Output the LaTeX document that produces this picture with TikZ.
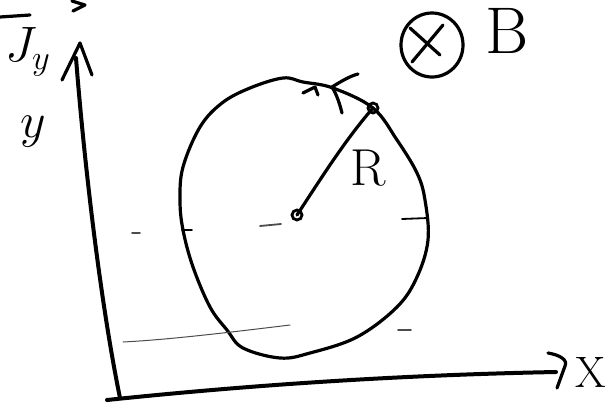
\documentclass[tikz,border=0pt]{standalone}
\begin{document}
\begin{tikzpicture}[x=0.5pt,y=-0.5pt,
  ink/.style={line width=1.6pt, line cap=round, line join=round},
  thick ink/.style={line width=2pt, line cap=round, line join=round},
  faint/.style={line width=0.5pt, black!70, line cap=round},
  lbl/.style={inner sep=0pt, anchor=center}]
\useasboundingbox (0,0) rectangle (605,402);
% coordinates
\coordinate (ytop) at (80,43);
\coordinate (o) at (120,398);
\coordinate (xend) at (556,372);
\coordinate (c) at (297,215);
\coordinate (p) at (373,108);
% y axis
\draw[thick ink] (o) .. controls (100,300) and (84,160) .. (76,58);
\draw[ink] (62,80) -- (ytop) -- (92,75);
% x axis
\draw[thick ink] (107,400) .. controls (250,385) and (400,375) .. (xend);
\draw[ink] (548,353) .. controls (560,355) and (568,360) .. (565,366) -- (557,388);
% circle
\draw[ink] plot[smooth cycle, tension=0.6] coordinates {
 (180,200) (183,167) (200,127) (222,103) (250,88) (283,78) (303,82)
 (333,88) (373,108) (397,140) (417,173) (425,200) (428,240) (417,277)
 (397,307) (357,337) (310,353) (280,358) (243,348) (227,330) (210,307)
 (193,267) (183,230)};
% radius
\draw[ink] (c) .. controls (320,180) and (345,140) .. (p);
\node[draw, circle, line width=1.4pt, minimum size=5pt, inner sep=0pt] (cdot) at (c) {};
\node[draw, circle, line width=1.4pt, minimum size=5pt, inner sep=0pt] (pdot) at (p) {};
\node[lbl, font=\fontsize{26}{28}\selectfont] (R) at (368,168) {R};
% marks on top of circle
\draw[ink] (303,93) -- (315,87) -- (318,95);
\draw[ink] (332,87) .. controls (340,82) and (350,76) .. (358,74);
\draw[ink] (332,87) .. controls (337,95) and (340,105) .. (342,113);
% field symbol
\draw[ink] (432,45) ellipse [x radius=31, y radius=32];
\draw[ink] (410,28) -- (440,55);
\draw[ink] (443,25) -- (412,62);
\node[lbl, font=\fontsize{33}{36}\selectfont] (B) at (507,31) {B};
% axis labels
\node[lbl, font=\fontsize{22}{24}\selectfont] (X) at (591,372) {X};
\node[lbl, font=\fontsize{26}{28}\selectfont] (Jy) at (28,52) {$J_{y}$};
\draw[ink] (0,17) -- (30,15);
\draw[ink] (72,1) -- (85,5) -- (73,11);
\node[lbl, font=\fontsize{46}{48}\selectfont] (ylab) at (33,132) {$y$};
% faint guide marks
\draw[faint] (123,342) .. controls (160,340) and (200,336) .. (290,325);
\draw[ink, line width=0.9pt] (182,230) -- (192,230);
\draw[ink, line width=0.9pt] (402,219) -- (428,218);
\draw[faint, line width=0.9pt] (260,226) -- (281,224);
\draw[faint, line width=0.9pt] (132,233) -- (140,233);
\draw[faint, line width=0.9pt] (398,330) -- (411,330);
\end{tikzpicture}
\end{document}
